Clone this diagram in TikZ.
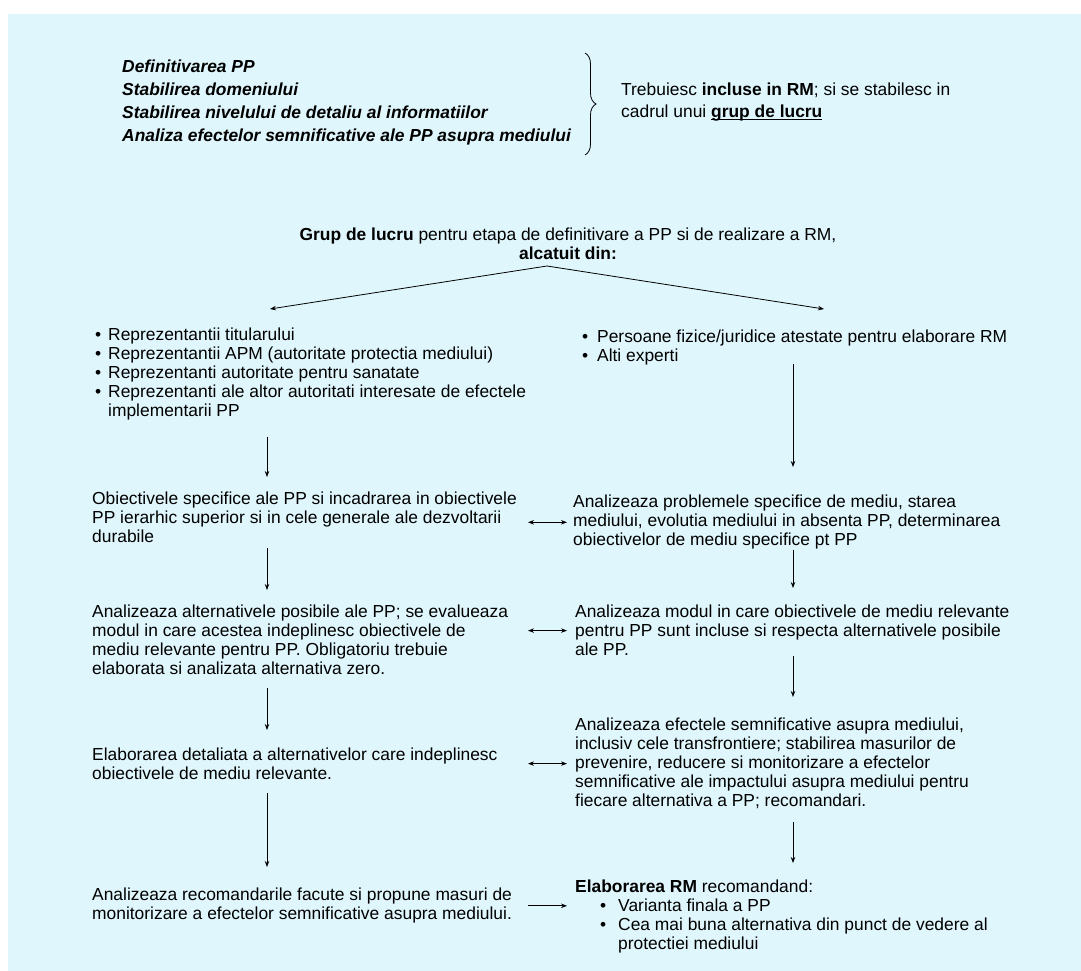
\documentclass[tikz,border=0pt]{standalone}
\usepackage{fontspec}
\setmainfont{Liberation Sans}
\usetikzlibrary{arrows.meta,decorations.pathreplacing}

\definecolor{bgcyan}{RGB}{223,246,252}

\tikzset{
  txt/.style={anchor=north west, inner sep=0pt, align=left,
    font=\fontsize{17.4}{19}\selectfont},
  arr/.style={-{Stealth[length=6pt,width=4.5pt]}, line width=0.8pt},
  dbl/.style={{Stealth[length=6pt,width=4.5pt]}-{Stealth[length=6pt,width=4.5pt]},
    line width=0.8pt},
}
\newcommand{\itm}[1]{\makebox[13pt][l]{\textbullet}#1}
\newcommand{\itr}[1]{\makebox[15pt][l]{\textbullet}#1}
\newcommand{\subl}[1]{\setbox0\hbox{#1}\rlap{\rule[-2.4pt]{\wd0}{1.5pt}}\box0}

\begin{document}
\begin{tikzpicture}[x=1pt,y=-1pt]
\useasboundingbox (0,0) rectangle (1081,971);
\fill[bgcyan] (8,14) rectangle (1081,971);

% Etapele care intra in RM
\node[txt, font=\fontsize{17.4}{23}\selectfont\bfseries\itshape] (etape) at (122,60)
  {Definitivarea PP\\Stabilirea domeniului\\Stabilirea nivelului de detaliu al informatiilor\\Analiza efectelor semnificative ale PP asupra mediului};
\draw[decorate, decoration={brace, amplitude=11pt}, line width=0.8pt] (585,53) -- (585,155);
\node[txt, font=\fontsize{17.4}{22}\selectfont] (incluse) at (621,83)
  {Trebuiesc \textbf{incluse in RM}; si se stabilesc in\\cadrul unui \subl{\textbf{grup de lucru}}};

% Grupul de lucru
\node[txt, anchor=north, align=center] (grup) at (568,228)
  {\textbf{Grup de lucru} pentru etapa de definitivare a PP si de realizare a RM,\\\textbf{alcatuit din:}};
\coordinate (apex) at (547,266);
\coordinate (tipL) at (270,309);
\coordinate (tipR) at (824,309);
\draw[arr] (apex) -- (tipL);
\draw[arr] (apex) -- (tipR);

% Coloana stanga
\node[txt] (L1) at (95,328)
  {\itm{Reprezentantii titularului}\\\itm{Reprezentantii APM (autoritate protectia mediului)}\\\itm{Reprezentanti autoritate pentru sanatate}\\\itm{Reprezentanti ale altor autoritati interesate de efectele}\\\hspace*{13pt}implementarii PP};
\node[txt] (L2) at (92,492)
  {Obiectivele specifice ale PP si incadrarea in obiectivele\\PP ierarhic superior si in cele generale ale dezvoltarii\\durabile};
\node[txt] (L3) at (92,605)
  {Analizeaza alternativele posibile ale PP; se evalueaza\\modul in care acestea indeplinesc obiectivele de\\mediu relevante pentru PP. Obligatoriu trebuie\\elaborata si analizata alternativa zero.};
\node[txt] (L4) at (92,748)
  {Elaborarea detaliata a alternativelor care indeplinesc\\obiectivele de mediu relevante.};
\node[txt] (L5) at (92,888)
  {Analizeaza recomandarile facute si propune masuri de\\monitorizare a efectelor semnificative asupra mediului.};

% Coloana dreapta
\node[txt] (R1) at (582,330)
  {\itr{Persoane fizice/juridice atestate pentru elaborare RM}\\\itr{Alti experti}};
\node[txt] (R2) at (573,495)
  {Analizeaza problemele specifice de mediu, starea\\mediului, evolutia mediului in absenta PP, determinarea\\obiectivelor de mediu specifice pt PP};
\node[txt] (R3) at (575,605)
  {Analizeaza modul in care obiectivele de mediu relevante\\pentru PP sunt incluse si respecta alternativele posibile\\ale PP.};
\node[txt] (R4) at (575,718)
  {Analizeaza efectele semnificative asupra mediului,\\inclusiv cele transfrontiere; stabilirea masurilor de\\prevenire, reducere si monitorizare a efectelor\\semnificative ale impactului asupra mediului pentru\\fiecare alternativa a PP; recomandari.};
\node[txt] (R5) at (575,880)
  {\textbf{Elaborarea RM} recomandand:\\\hspace*{25pt}\makebox[18pt][l]{\textbullet}Varianta finala a PP\\\hspace*{25pt}\makebox[18pt][l]{\textbullet}Cea mai buna alternativa din punct de vedere al\\\hspace*{43pt}protectiei mediului};

% Sageti verticale
\coordinate (colL) at (267,0);
\coordinate (colR) at (793,0);
\foreach \a/\b/\s/\e in {L1/L2/16pt/15pt, L2/L3/5pt/15pt, L3/L4/13pt/18pt, L4/L5/13pt/21pt}
  \draw[arr, shorten <=\s, shorten >=\e] (\a.south -| colL) -- (\b.north -| colL);
\foreach \a/\b/\s/\e in {R1/R2/-2pt/28pt, R2/R3/0pt/17pt, R3/R4/0pt/21pt, R4/R5/13pt/17pt}
  \draw[arr, shorten <=\s, shorten >=\e] (\a.south -| colR) -- (\b.north -| colR);

% Sageti intre coloane
\coordinate (gapL) at (528,0);
\coordinate (gapR) at (567,0);
\foreach \n in {R2,R3,R4}
  \draw[dbl] (gapL |- \n.west) -- (gapR |- \n.west);
\draw[arr] (gapL |- L5.east) -- (gapR |- L5.east);

\end{tikzpicture}
\end{document}
